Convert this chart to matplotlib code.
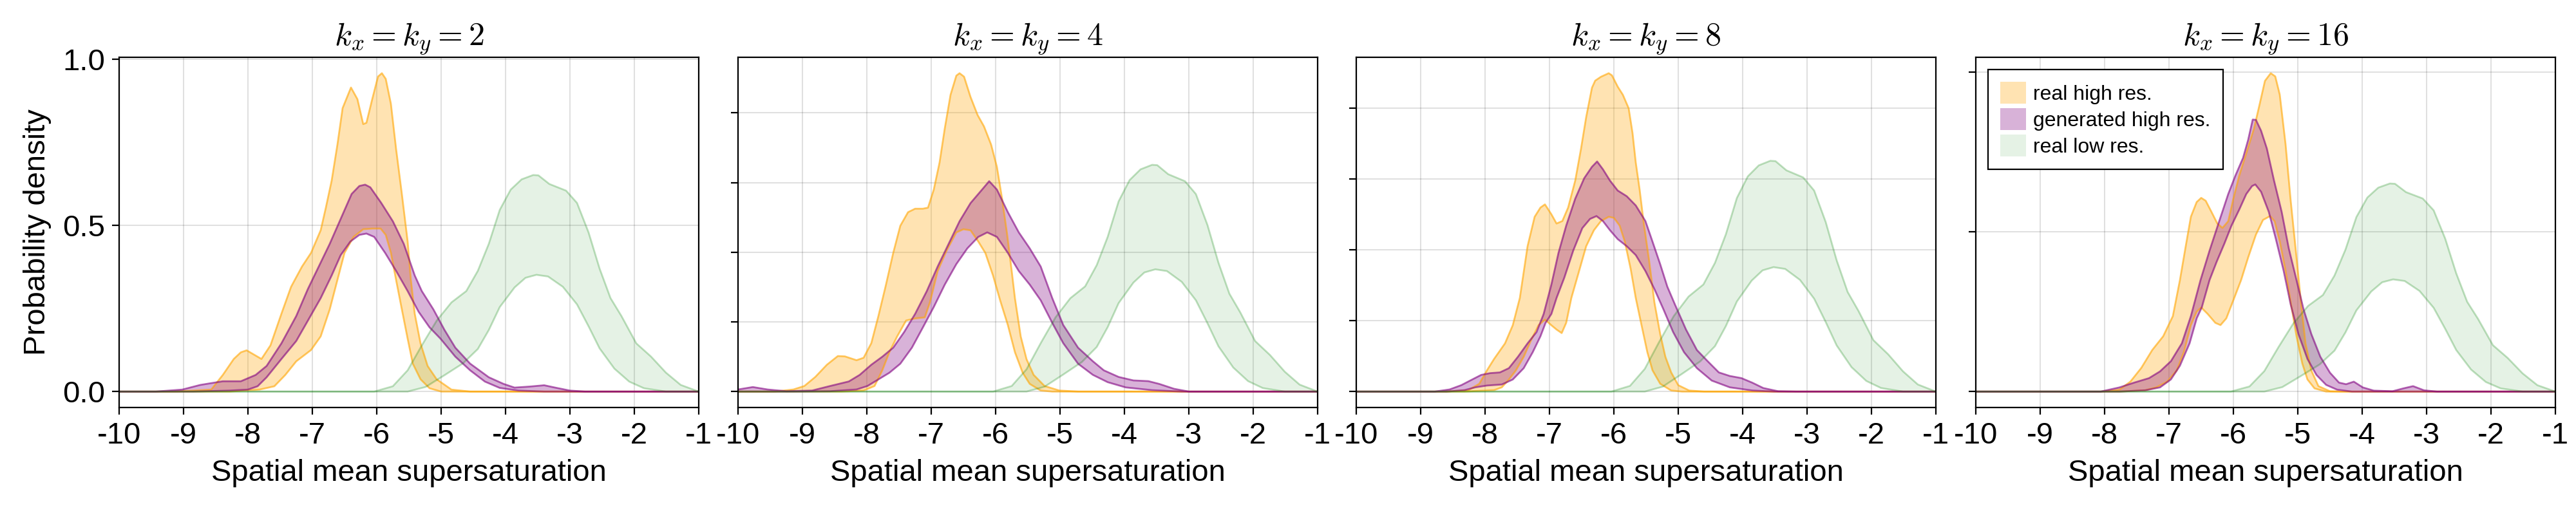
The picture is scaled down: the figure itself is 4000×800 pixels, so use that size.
import numpy as np
import matplotlib.pyplot as plt
from matplotlib.patches import Patch
from matplotlib.ticker import MultipleLocator

# (x, density) points, lower and upper edge of each band
ks = [2, 4, 8, 16]

real_k2_upper = [(-10, 0), (-9.14, 0), (-8.57, 0.006), (-8.39, 0.05), (-8.22, 0.098), (-8.11, 0.118),
                 (-8.02, 0.124), (-7.79, 0.098), (-7.65, 0.139), (-7.48, 0.234), (-7.33, 0.315),
                 (-7.16, 0.376), (-7.02, 0.417), (-6.87, 0.485), (-6.79, 0.553), (-6.70, 0.634),
                 (-6.61, 0.743), (-6.53, 0.852), (-6.40, 0.914), (-6.30, 0.879), (-6.21, 0.804),
                 (-6.16, 0.808), (-6.07, 0.879), (-5.98, 0.947), (-5.92, 0.957), (-5.86, 0.940),
                 (-5.78, 0.865), (-5.70, 0.730), (-5.61, 0.594), (-5.52, 0.451), (-5.47, 0.336),
                 (-5.41, 0.234), (-5.32, 0.145), (-5.21, 0.077), (-5.07, 0.037), (-4.84, 0.006),
                 (-4.55, 0), (-1, 0)]
real_k2_lower = [(-10, 0), (-8.28, 0), (-7.82, 0.006), (-7.59, 0.016), (-7.42, 0.05), (-7.25, 0.091),
                 (-7.02, 0.125), (-6.87, 0.166), (-6.73, 0.247), (-6.61, 0.336), (-6.50, 0.417),
                 (-6.36, 0.465), (-6.21, 0.488), (-6.07, 0.490), (-5.94, 0.490), (-5.86, 0.471),
                 (-5.78, 0.417), (-5.70, 0.336), (-5.61, 0.247), (-5.52, 0.159), (-5.44, 0.084),
                 (-5.32, 0.037), (-5.18, 0.01), (-5.0, 0), (-1, 0)]
gen_k2_upper = [(-10, 0), (-9.43, 0), (-9.02, 0.006), (-8.74, 0.02), (-8.39, 0.031), (-8.11, 0.031),
                (-7.88, 0.05), (-7.71, 0.077), (-7.48, 0.145), (-7.25, 0.227), (-7.07, 0.308),
                (-6.90, 0.376), (-6.73, 0.444), (-6.56, 0.519), (-6.39, 0.594), (-6.27, 0.618),
                (-6.18, 0.622), (-6.10, 0.614), (-5.93, 0.567), (-5.75, 0.512), (-5.58, 0.444),
                (-5.41, 0.349), (-5.30, 0.302), (-5.12, 0.247), (-4.95, 0.186), (-4.78, 0.132),
                (-4.55, 0.084), (-4.26, 0.043), (-4.03, 0.023), (-3.86, 0.012), (-3.63, 0.015),
                (-3.40, 0.019), (-3.23, 0.012), (-3.0, 0.003), (-2.77, 0), (-1, 0)]
gen_k2_lower = [(-10, 0), (-8.85, 0), (-8.28, 0.003), (-8.0, 0.006), (-7.85, 0.016), (-7.71, 0.043),
                (-7.48, 0.098), (-7.25, 0.152), (-7.07, 0.213), (-6.87, 0.281), (-6.70, 0.349),
                (-6.56, 0.41), (-6.41, 0.451), (-6.27, 0.471), (-6.16, 0.475), (-6.04, 0.465),
                (-5.87, 0.417), (-5.70, 0.363), (-5.52, 0.302), (-5.35, 0.240), (-5.18, 0.193),
                (-5.01, 0.159), (-4.78, 0.105), (-4.55, 0.064), (-4.32, 0.03), (-4.09, 0.011),
                (-3.80, 0.003), (-3.40, 0), (-1, 0)]

real_k4_upper = [(-10, 0), (-9.43, 0), (-9.14, 0.006), (-8.97, 0.016), (-8.80, 0.042), (-8.62, 0.077),
                 (-8.45, 0.102), (-8.34, 0.101), (-8.16, 0.09), (-8.05, 0.097), (-7.93, 0.139),
                 (-7.82, 0.217), (-7.71, 0.301), (-7.59, 0.398), (-7.48, 0.476), (-7.36, 0.515),
                 (-7.25, 0.525), (-7.13, 0.525), (-7.05, 0.528), (-6.96, 0.580), (-6.87, 0.658),
                 (-6.79, 0.755), (-6.70, 0.852), (-6.61, 0.907), (-6.56, 0.914), (-6.49, 0.904),
                 (-6.39, 0.846), (-6.28, 0.794), (-6.18, 0.761), (-6.07, 0.709), (-5.98, 0.645),
                 (-5.90, 0.554), (-5.82, 0.450), (-5.75, 0.346), (-5.70, 0.268), (-5.61, 0.158),
                 (-5.52, 0.093), (-5.41, 0.048), (-5.24, 0.016), (-5.01, 0.003), (-4.72, 0), (-1, 0)]
real_k4_lower = [(-10, 0), (-8.39, 0), (-8.05, 0.003), (-7.88, 0.016), (-7.76, 0.061), (-7.65, 0.113),
                 (-7.53, 0.158), (-7.39, 0.204), (-7.25, 0.21), (-7.10, 0.213), (-7.02, 0.256),
                 (-6.90, 0.346), (-6.76, 0.405), (-6.61, 0.457), (-6.50, 0.466), (-6.39, 0.463),
                 (-6.27, 0.431), (-6.16, 0.398), (-6.04, 0.333), (-5.93, 0.262), (-5.81, 0.191),
                 (-5.70, 0.113), (-5.58, 0.054), (-5.47, 0.022), (-5.30, 0.003), (-5.12, 0), (-1, 0)]
gen_k4_upper = [(-10, 0.006), (-9.77, 0.013), (-9.54, 0.006), (-9.25, 0.001), (-8.85, 0.003),
                (-8.57, 0.016), (-8.28, 0.029), (-8.11, 0.048), (-7.93, 0.077), (-7.76, 0.1),
                (-7.59, 0.126), (-7.42, 0.171), (-7.25, 0.223), (-7.07, 0.288), (-6.90, 0.359),
                (-6.73, 0.424), (-6.56, 0.489), (-6.39, 0.541), (-6.21, 0.580), (-6.10, 0.604),
                (-5.98, 0.580), (-5.81, 0.515), (-5.64, 0.457), (-5.47, 0.411), (-5.30, 0.359),
                (-5.12, 0.268), (-4.95, 0.191), (-4.72, 0.126), (-4.49, 0.087), (-4.32, 0.061),
                (-4.09, 0.042), (-3.86, 0.032), (-3.63, 0.03), (-3.46, 0.022), (-3.23, 0.008),
                (-3.0, 0), (-1, 0)]
gen_k4_lower = [(-10, 0), (-9.14, 0), (-8.57, 0.001), (-8.16, 0.006), (-7.99, 0.016), (-7.82, 0.035),
                (-7.65, 0.054), (-7.48, 0.08), (-7.30, 0.126), (-7.13, 0.184), (-6.96, 0.243),
                (-6.79, 0.307), (-6.61, 0.366), (-6.44, 0.411), (-6.27, 0.444), (-6.13, 0.457),
                (-5.98, 0.444), (-5.81, 0.398), (-5.64, 0.346), (-5.47, 0.307), (-5.30, 0.262),
                (-5.12, 0.197), (-4.95, 0.139), (-4.72, 0.08), (-4.49, 0.048), (-4.26, 0.027),
                (-3.98, 0.012), (-3.57, 0.004), (-3.11, 0), (-1, 0)]

real_k8_upper = [(-10, 0), (-8.60, 0), (-8.26, 0.004), (-8.09, 0.022), (-7.97, 0.06), (-7.86, 0.092),
                 (-7.69, 0.136), (-7.57, 0.187), (-7.46, 0.264), (-7.34, 0.41), (-7.23, 0.493),
                 (-7.14, 0.519), (-7.07, 0.528), (-6.97, 0.5), (-6.89, 0.474), (-6.80, 0.481),
                 (-6.71, 0.519), (-6.60, 0.595), (-6.51, 0.685), (-6.43, 0.774), (-6.34, 0.857),
                 (-6.29, 0.877), (-6.20, 0.888), (-6.08, 0.898), (-6.03, 0.892), (-5.94, 0.86),
                 (-5.86, 0.837), (-5.77, 0.799), (-5.71, 0.729), (-5.66, 0.646), (-5.60, 0.57),
                 (-5.54, 0.481), (-5.45, 0.366), (-5.37, 0.251), (-5.28, 0.162), (-5.20, 0.098),
                 (-5.11, 0.054), (-5.00, 0.018), (-4.83, 0.003), (-4.60, 0), (-1, 0)]
real_k8_lower = [(-10, 0), (-8.32, 0), (-7.86, 0.004), (-7.74, 0.012), (-7.63, 0.034), (-7.52, 0.06),
                 (-7.40, 0.098), (-7.29, 0.143), (-7.17, 0.187), (-7.07, 0.203), (-6.97, 0.187),
                 (-6.89, 0.175), (-6.81, 0.165), (-6.74, 0.194), (-6.66, 0.264), (-6.54, 0.34),
                 (-6.43, 0.41), (-6.31, 0.455), (-6.20, 0.481), (-6.08, 0.493), (-6.00, 0.49),
                 (-5.91, 0.468), (-5.83, 0.423), (-5.74, 0.347), (-5.66, 0.264), (-5.57, 0.187),
                 (-5.48, 0.111), (-5.40, 0.06), (-5.28, 0.022), (-5.11, 0.003), (-4.94, 0), (-1, 0)]
gen_k8_upper = [(-10, 0), (-8.78, 0), (-8.55, 0.006), (-8.37, 0.018), (-8.20, 0.034), (-8.06, 0.047),
                (-7.92, 0.052), (-7.77, 0.054), (-7.63, 0.066), (-7.49, 0.098), (-7.34, 0.136),
                (-7.20, 0.168), (-7.09, 0.219), (-6.97, 0.302), (-6.86, 0.391), (-6.74, 0.468),
                (-6.60, 0.544), (-6.46, 0.602), (-6.34, 0.634), (-6.26, 0.649), (-6.17, 0.627),
                (-6.06, 0.595), (-5.94, 0.567), (-5.80, 0.551), (-5.66, 0.525), (-5.51, 0.481),
                (-5.40, 0.423), (-5.28, 0.359), (-5.17, 0.296), (-5.05, 0.245), (-4.88, 0.175),
                (-4.71, 0.117), (-4.54, 0.085), (-4.37, 0.054), (-4.20, 0.044), (-4.02, 0.038),
                (-3.85, 0.025), (-3.68, 0.01), (-3.45, 0.001), (-3.17, 0), (-1, 0)]
gen_k8_lower = [(-10, 0), (-8.60, 0), (-8.32, 0.004), (-8.15, 0.012), (-7.97, 0.017), (-7.74, 0.02),
                (-7.57, 0.034), (-7.40, 0.066), (-7.26, 0.111), (-7.14, 0.156), (-7.06, 0.194),
                (-6.97, 0.219), (-6.89, 0.264), (-6.77, 0.321), (-6.63, 0.398), (-6.49, 0.461),
                (-6.37, 0.487), (-6.27, 0.495), (-6.17, 0.481), (-6.06, 0.455), (-5.94, 0.43),
                (-5.80, 0.41), (-5.66, 0.385), (-5.51, 0.34), (-5.37, 0.289), (-5.23, 0.232),
                (-5.08, 0.168), (-4.91, 0.111), (-4.71, 0.066), (-4.48, 0.031), (-4.20, 0.012),
                (-3.85, 0.003), (-3.51, 0), (-1, 0)]

real_k16_upper = [(-10, 0), (-8.06, 0), (-7.77, 0.006), (-7.60, 0.031), (-7.43, 0.074), (-7.26, 0.13),
                  (-7.09, 0.173), (-6.94, 0.236), (-6.83, 0.349), (-6.74, 0.455), (-6.66, 0.547),
                  (-6.57, 0.593), (-6.50, 0.606), (-6.43, 0.597), (-6.34, 0.562), (-6.25, 0.526),
                  (-6.17, 0.512), (-6.08, 0.533), (-6.00, 0.604), (-5.91, 0.675), (-5.79, 0.752),
                  (-5.68, 0.823), (-5.59, 0.901), (-5.51, 0.972), (-5.42, 0.996), (-5.35, 0.986),
                  (-5.28, 0.929), (-5.19, 0.774), (-5.11, 0.597), (-5.02, 0.42), (-4.95, 0.279),
                  (-4.88, 0.151), (-4.79, 0.066), (-4.68, 0.017), (-4.50, 0.001), (-4.33, 0), (-1, 0)]
real_k16_lower = [(-10, 0), (-7.77, 0), (-7.37, 0.004), (-7.20, 0.013), (-7.03, 0.031), (-6.88, 0.066),
                  (-6.77, 0.123), (-6.66, 0.208), (-6.57, 0.25), (-6.50, 0.263), (-6.40, 0.243),
                  (-6.28, 0.215), (-6.20, 0.208), (-6.11, 0.229), (-6.00, 0.286), (-5.88, 0.349),
                  (-5.77, 0.42), (-5.65, 0.491), (-5.54, 0.537), (-5.43, 0.549), (-5.36, 0.533),
                  (-5.28, 0.47), (-5.19, 0.378), (-5.11, 0.279), (-5.02, 0.173), (-4.93, 0.088),
                  (-4.85, 0.038), (-4.74, 0.01), (-4.56, 0), (-1, 0)]
gen_k16_upper = [(-10, 0), (-8.06, 0), (-7.77, 0.013), (-7.54, 0.028), (-7.31, 0.042), (-7.14, 0.063),
                 (-6.97, 0.095), (-6.80, 0.151), (-6.66, 0.236), (-6.51, 0.349), (-6.37, 0.441),
                 (-6.22, 0.533), (-6.08, 0.618), (-5.97, 0.675), (-5.85, 0.731), (-5.77, 0.788),
                 (-5.70, 0.851), (-5.65, 0.85), (-5.57, 0.816), (-5.48, 0.76), (-5.37, 0.661),
                 (-5.25, 0.562), (-5.14, 0.448), (-5.02, 0.349), (-4.91, 0.257), (-4.79, 0.18),
                 (-4.65, 0.109), (-4.50, 0.059), (-4.36, 0.028), (-4.25, 0.023), (-4.13, 0.031),
                 (-3.99, 0.013), (-3.82, 0.003), (-3.53, 0.001), (-3.36, 0.01), (-3.21, 0.017),
                 (-3.04, 0.004), (-2.84, 0), (-1, 0)]
gen_k16_lower = [(-10, 0), (-7.77, 0), (-7.37, 0.004), (-7.14, 0.013), (-6.97, 0.038), (-6.83, 0.081),
                 (-6.68, 0.151), (-6.57, 0.229), (-6.49, 0.264), (-6.37, 0.349), (-6.26, 0.406),
                 (-6.14, 0.463), (-6.03, 0.519), (-5.91, 0.569), (-5.80, 0.618), (-5.71, 0.643),
                 (-5.66, 0.648), (-5.57, 0.625), (-5.45, 0.562), (-5.34, 0.477), (-5.22, 0.378),
                 (-5.11, 0.272), (-4.99, 0.18), (-4.85, 0.102), (-4.71, 0.052), (-4.56, 0.021),
                 (-4.39, 0.006), (-4.16, 0), (-1, 0)]

# the low resolution band is the same in every panel
low_upper = [(-10, 0), (-6.04, 0), (-5.75, 0.016), (-5.52, 0.064), (-5.30, 0.139), (-5.07, 0.213),
             (-4.84, 0.268), (-4.61, 0.302), (-4.43, 0.363), (-4.26, 0.444), (-4.09, 0.546),
             (-3.92, 0.607), (-3.75, 0.638), (-3.57, 0.651), (-3.49, 0.650), (-3.32, 0.624),
             (-3.06, 0.604), (-2.89, 0.567), (-2.71, 0.478), (-2.54, 0.370), (-2.37, 0.281),
             (-2.20, 0.227), (-1.97, 0.145), (-1.74, 0.105), (-1.51, 0.057), (-1.28, 0.02), (-1, 0)]
low_lower = [(-10, 0), (-5.52, 0), (-5.24, 0.014), (-4.95, 0.049), (-4.66, 0.085), (-4.43, 0.128),
             (-4.26, 0.185), (-4.09, 0.254), (-3.86, 0.313), (-3.69, 0.342), (-3.52, 0.351),
             (-3.34, 0.346), (-3.11, 0.315), (-2.89, 0.262), (-2.71, 0.196), (-2.54, 0.13),
             (-2.31, 0.069), (-2.08, 0.03), (-1.85, 0.01), (-1.51, 0), (-1, 0)]

real_bands = [(real_k2_upper, real_k2_lower), (real_k4_upper, real_k4_lower),
              (real_k8_upper, real_k8_lower), (real_k16_upper, real_k16_lower)]
gen_bands = [(gen_k2_upper, gen_k2_lower), (gen_k4_upper, gen_k4_lower),
             (gen_k8_upper, gen_k8_lower), (gen_k16_upper, gen_k16_lower)]
ytick_steps = [0.5, 0.2, 0.2, 0.5]
xticks = list(range(-10, 0))

plt.rcParams['font.family'] = ['Liberation Sans', 'DejaVu Sans']
plt.rcParams['mathtext.fontset'] = 'cm'
plt.rcParams['axes.unicode_minus'] = False

ORANGE = '#FFA500'
PURPLE = '#800080'
GREEN = '#008000'


def draw_band(ax, upper, lower, color, fill_alpha, line_alpha):
    xu, yu = np.array(upper).T
    xl, yl = np.array(lower).T
    ax.fill(np.r_[xu, xl[::-1]], np.r_[yu, yl[::-1]], color=color, alpha=fill_alpha, lw=0)
    ax.plot(xu, yu, color=color, alpha=line_alpha, lw=2)
    ax.plot(xl, yl, color=color, alpha=line_alpha, lw=2)
    return max(yu.max(), yl.max())


fig = plt.figure(figsize=(40, 8), dpi=100)
lefts = [185, 1146, 2106, 3068]

for i, k in enumerate(ks):
    ax = fig.add_axes([lefts[i] / 4000, 167 / 800, 900 / 4000, 544 / 800])
    top = draw_band(ax, *real_bands[i], ORANGE, 0.3, 0.6)
    top = max(top, draw_band(ax, *gen_bands[i], PURPLE, 0.3, 0.6))
    top = max(top, draw_band(ax, low_upper, low_lower, GREEN, 0.1, 0.25))

    ax.set_xlim(-10, -1)
    ax.set_ylim(-0.05 * top, 1.05 * top)
    ax.set_xticks(xticks)
    ax.yaxis.set_major_locator(MultipleLocator(ytick_steps[i]))
    ax.yaxis.set_major_formatter(lambda v, p: f'{v:.1f}')
    ax.grid(True, color='black', alpha=0.12, lw=1.5)
    ax.set_axisbelow(True)
    for s in ax.spines.values():
        s.set_linewidth(1.6)
    ax.tick_params(direction='out', length=8, width=1.6, labelsize=34, pad=8)
    if i > 0:
        ax.tick_params(labelleft=False)
    else:
        ax.set_ylabel('Probability density', fontsize=34, labelpad=12)
    ax.set_xlabel('Spatial mean supersaturation', fontsize=34, labelpad=10)
    ax.set_title(rf'$k_x = k_y = {k}$', fontsize=36, pad=14)

    if i == 3:
        handles = [Patch(facecolor=ORANGE, alpha=0.3, lw=0),
                   Patch(facecolor=PURPLE, alpha=0.3, lw=0),
                   Patch(facecolor=GREEN, alpha=0.1, lw=0)]
        leg = ax.legend(handles, ['real high res.', 'generated high res.', 'real low res.'],
                        loc='upper left', fontsize=23, frameon=True, fancybox=False,
                        edgecolor='black', framealpha=1, handlelength=1.25, handleheight=1.25,
                        labelspacing=0.2, handletextpad=0.35, borderpad=0.6, borderaxespad=0.6)
        leg.get_frame().set_linewidth(1.6)

fig.savefig('out.png', dpi=100)
